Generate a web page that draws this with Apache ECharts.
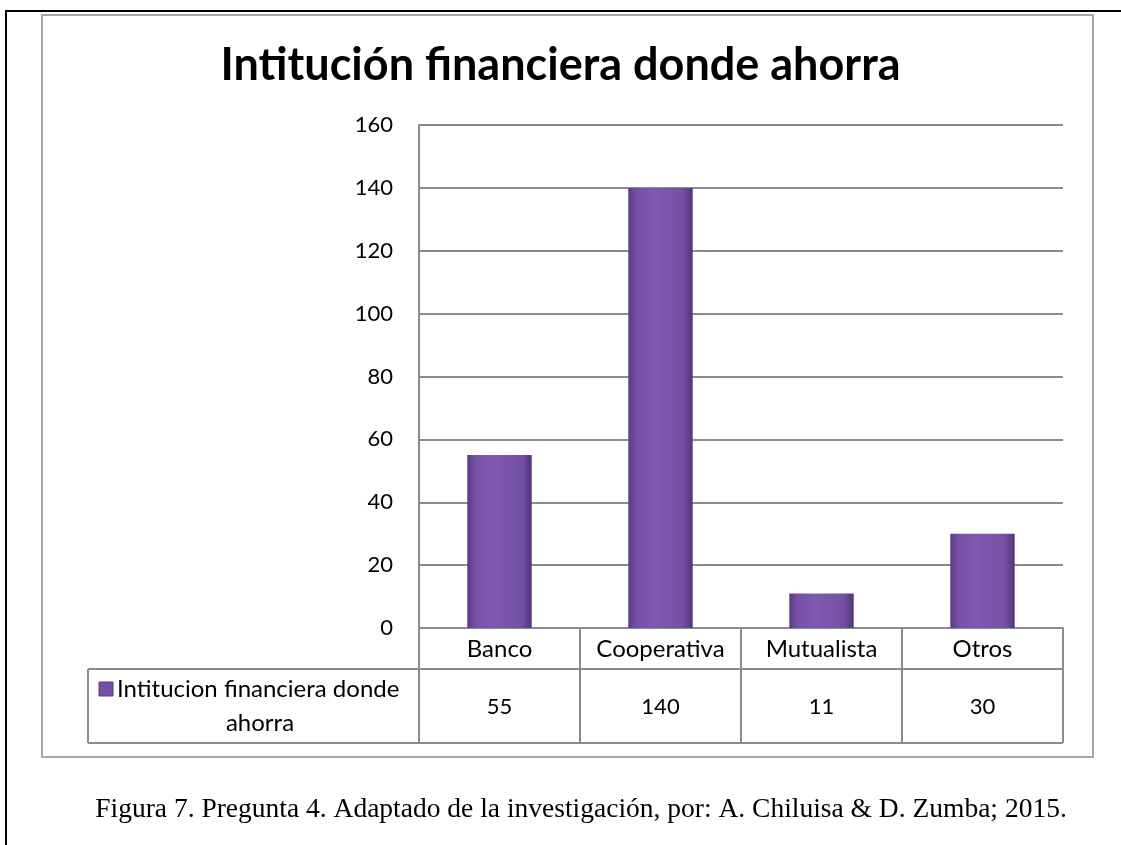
<!DOCTYPE html>
<html>
<head>
<meta charset="utf-8">
<script src="https://cdn.jsdelivr.net/npm/echarts@6/dist/echarts.min.js"></script>
<style>
  html, body { margin: 0; padding: 0; background: #fff; }
  #chart { width: 1121px; height: 845px; }
</style>
</head>
<body>
<div id="chart"></div>
<script>
// datos de la figura
const categorias = ["Banco", "Cooperativa", "Mutualista", "Otros"];
const valores = [55, 140, 11, 30];
const serieNombre = "Intitucion financiera donde ahorra";
const titulo = "Intitución financiera donde ahorra";
const pie = "Figura 7. Pregunta 4. Adaptado de la investigación, por: A. Chiluisa & D. Zumba; 2015.";

const gris = "#8c8c8c";
const fuente = "Lato";

let myChart = echarts.init(document.getElementById("chart"));

let options = {
  animation: false,
  title: {
    text: titulo,
    left: "center",
    top: 38,
    textStyle: { fontFamily: fuente, fontSize: 45, fontWeight: "bold", color: "#000" },
  },
  grid: { left: 419, right: 58, top: 125, bottom: 217 },
  xAxis: [
    {
      type: "category",
      data: categorias,
      position: "bottom",
      axisLine: { lineStyle: { color: gris, width: 2 } },
      axisTick: { show: true, interval: 0, length: 41, lineStyle: { color: gris, width: 2 } },
      axisLabel: { interval: 0, margin: 9, fontFamily: fuente, fontSize: 24, color: "#000", lineHeight: 24 },
    },
    {
      // fila de valores de la tabla de datos
      type: "category",
      data: valores.map(String),
      position: "bottom",
      offset: 41,
      axisLine: { lineStyle: { color: gris, width: 2 } },
      axisTick: { show: true, interval: 0, length: 74, lineStyle: { color: gris, width: 2 } },
      axisLabel: { interval: 0, margin: 27, fontFamily: fuente, fontSize: 22, color: "#000", lineHeight: 22 },
    },
  ],
  yAxis: {
    type: "value",
    min: 0,
    max: 160,
    interval: 20,
    axisLine: { show: true, lineStyle: { color: gris, width: 2 } },
    axisTick: { show: false },
    axisLabel: { margin: 26, fontFamily: fuente, fontSize: 22, color: "#000" },
    splitLine: { lineStyle: { color: gris, width: 2 } },
  },
  series: [
    {
      name: serieNombre,
      type: "bar",
      xAxisIndex: 0,
      data: valores,
      barWidth: "40%",
      itemStyle: {
        color: new echarts.graphic.LinearGradient(0, 0, 1, 0, [
          { offset: 0, color: "#5a3a86" },
          { offset: 0.12, color: "#7550a4" },
          { offset: 0.4, color: "#8059b2" },
          { offset: 0.85, color: "#7450a2" },
          { offset: 1, color: "#52347a" },
        ]),
      },
    },
  ],
  graphic: [
    // borde de la pagina
    { type: "line", shape: { x1: 5, y1: 11, x2: 1121, y2: 11 }, style: { stroke: "#000", lineWidth: 2 } },
    { type: "line", shape: { x1: 6, y1: 11, x2: 6, y2: 845 }, style: { stroke: "#000", lineWidth: 2 } },
    // marco del grafico
    { type: "rect", shape: { x: 42, y: 15, width: 1051, height: 742 }, style: { fill: null, stroke: "#a6a6a6", lineWidth: 2 } },
    // celda de leyenda
    { type: "line", shape: { x1: 88, y1: 669, x2: 419, y2: 669 }, style: { stroke: gris, lineWidth: 2 } },
    { type: "line", shape: { x1: 88, y1: 669, x2: 88, y2: 743 }, style: { stroke: gris, lineWidth: 2 } },
    { type: "line", shape: { x1: 88, y1: 743, x2: 1063, y2: 743 }, style: { stroke: gris, lineWidth: 2 } },
    { type: "rect", shape: { x: 99, y: 682, width: 14, height: 14 }, style: { fill: "#7550a4", stroke: "#5a3a86", lineWidth: 1 } },
    {
      type: "text", x: 117, y: 689,
      style: { text: "Intitucion financiera donde", fontFamily: fuente, fontSize: 24, fill: "#000", textVerticalAlign: "middle" },
    },
    {
      type: "text", x: 260, y: 723,
      style: { text: "ahorra", fontFamily: fuente, fontSize: 24, fill: "#000", textAlign: "center", textVerticalAlign: "middle" },
    },
    // pie de figura
    {
      type: "text", x: 581, y: 810,
      style: { text: pie, fontFamily: "Liberation Serif", fontSize: 27.5, fill: "#000", textAlign: "center", textVerticalAlign: "middle" },
    },
  ],
};

myChart.setOption(options);
</script>
</body>
</html>
